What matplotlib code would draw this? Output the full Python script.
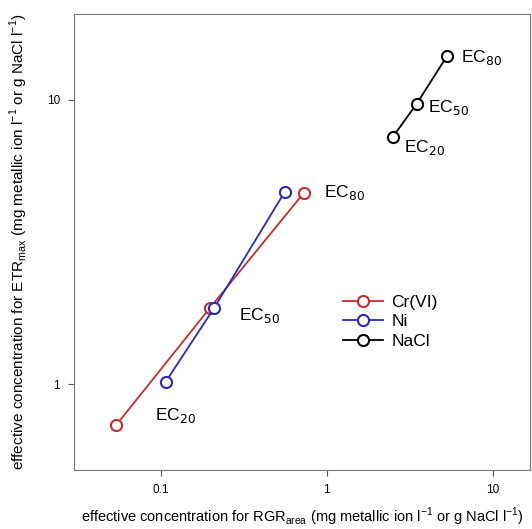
import matplotlib.pyplot as plt
from matplotlib.ticker import FixedLocator, NullLocator

plt.rcParams['font.family'] = ['Liberation Sans', 'DejaVu Sans']

# --- Data ---
ec_levels = ['EC$_{20}$', 'EC$_{50}$', 'EC$_{80}$']

cr_rgr = [0.054, 0.197, 0.73]
cr_etr = [0.72, 1.85, 4.72]

ni_rgr = [0.107, 0.209, 0.558]
ni_etr = [1.02, 1.85, 4.74]

nacl_rgr = [2.50, 3.48, 5.28]
nacl_etr = [7.41, 9.68, 14.2]

x_ticks = [0.1, 1, 10]
y_ticks = [1, 10]

fig = plt.figure(figsize=(5.32, 5.29), dpi=100)
ax = fig.add_axes([0.139, 0.1115, 0.857, 0.862])

ax.plot(cr_rgr, cr_etr, color='#cc2b2b', marker='o', mfc='white', mec='#cc2b2b',
        ms=8, mew=1.5, lw=1.3, label='Cr(VI)')
ax.plot(ni_rgr, ni_etr, color='#2a2ab5', marker='o', mfc='white', mec='#2a2ab5',
        ms=8, mew=1.5, lw=1.3, label='Ni')
ax.plot(nacl_rgr, nacl_etr, color='black', marker='o', mfc='white', mec='black',
        ms=8, mew=1.5, lw=1.3, label='NaCl')

ax.set_xscale('log')
ax.set_yscale('log')
ax.set_xlim(0.03, 16.7)
ax.set_ylim(0.5, 20)

ax.xaxis.set_major_locator(FixedLocator(x_ticks))
ax.yaxis.set_major_locator(FixedLocator(y_ticks))
ax.xaxis.set_minor_locator(NullLocator())
ax.yaxis.set_minor_locator(NullLocator())
ax.set_xticklabels(['0.1', '1', '10'])
ax.set_yticklabels(['1', '10'])
ax.tick_params(labelsize=8.5, length=4, pad=6, color='#555555')
for s in ax.spines.values():
    s.set_color('#777777')

fs = 12.5
# EC labels for metals
ax.annotate(ec_levels[0], (ni_rgr[0], cr_etr[0]), xytext=(-8, 7),
            textcoords='offset points', fontsize=fs, va='center', ha='left')
ax.annotate(ec_levels[1], (ni_rgr[1], ni_etr[1]), xytext=(18, -5),
            textcoords='offset points', fontsize=fs, va='center', ha='left')
ax.annotate(ec_levels[2], (cr_rgr[2], cr_etr[2]), xytext=(14, 0),
            textcoords='offset points', fontsize=fs, va='center', ha='left')
# EC labels for NaCl
ax.annotate(ec_levels[0], (nacl_rgr[0], nacl_etr[0]), xytext=(8, -8),
            textcoords='offset points', fontsize=fs, va='center', ha='left')
ax.annotate(ec_levels[1], (nacl_rgr[1], nacl_etr[1]), xytext=(8, -3),
            textcoords='offset points', fontsize=fs, va='center', ha='left')
ax.annotate(ec_levels[2], (nacl_rgr[2], nacl_etr[2]), xytext=(10, -1),
            textcoords='offset points', fontsize=fs, va='center', ha='left')

ax.legend(loc='center left', bbox_to_anchor=(0.555, 0.325), frameon=False,
          fontsize=fs, handlelength=2.3, labelspacing=0.25, handletextpad=0.5)

ax.set_xlabel('effective concentration for RGR$_{\\mathregular{area}}$ (mg metallic ion l$^{\\mathregular{-1}}$ or g NaCl l$^{\\mathregular{-1}}$)',
              fontsize=10.5)
ax.set_ylabel('effective concentration for ETR$_{\\mathregular{max}}$ (mg metallic ion l$^{\\mathregular{-1}}$ or g NaCl l$^{\\mathregular{-1}}$)',
              fontsize=11, labelpad=12)
ax.xaxis.set_label_coords(0.5, -0.079)

plt.savefig('out.png', dpi=100)
